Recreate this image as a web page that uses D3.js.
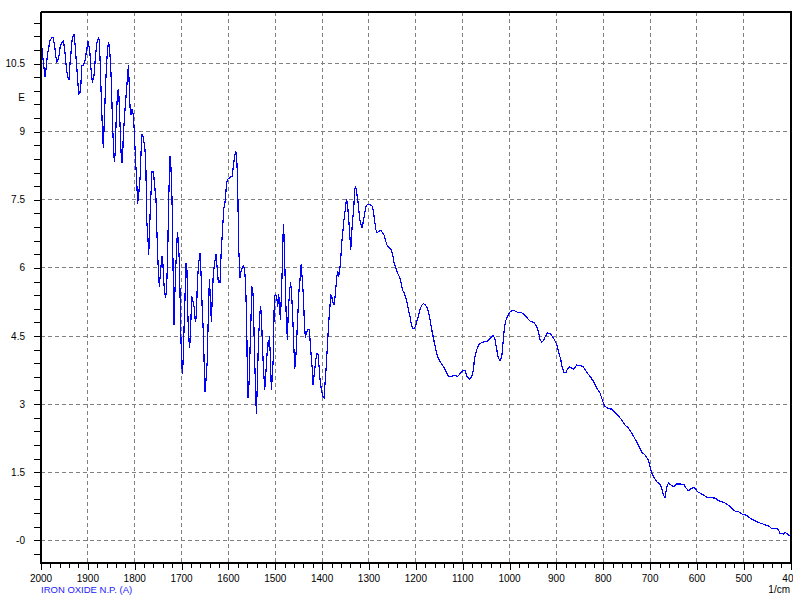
<!DOCTYPE html>
<html><head><meta charset="utf-8">
<script src="https://cdn.jsdelivr.net/npm/d3@7"></script>
<style>body{margin:0;background:#fff}svg{display:block}</style>
</head><body><svg id="c" width="793" height="595"></svg>
<script>
// ---------- data ----------
const xTickValues = [2000,1900,1800,1700,1600,1500,1400,1300,1200,1100,1000,900,800,700,600,500,400];
const xTickLabels = ["2000","1900","1800","1700","1600","1500","1400","1300","1200","1100","1000","900","800","700","600","500","400"];
const yTickValues = [10.5,9,7.5,6,4.5,3,1.5,0];
const yTickLabels = ["10.5","9","7.5","6","4.5","3","1.5","-0"];
const yAxisLabel = "E", yAxisLabelValue = 9.75;
const xTitle = "IRON OXIDE N.P. (A)";
const xUnit = "1/cm";
// [wavenumber (1/cm), absorbance]
const spectrumPoints = [
[2000,10.85],[1998.6,10.89],[1991.5,10.21],[1989.3,10.38],[1986.5,10.67],[1983.6,10.85],[1980.8,11.00],[1977.2,11.07],[1973.7,11.07],[1970.1,10.82],
[1966.6,10.52],[1963.0,10.60],[1960.9,10.71],[1959.4,10.85],[1955.9,10.96],[1952.3,11.00],[1949.5,10.82],[1945.2,10.34],[1941.7,10.15],[1939.5,10.15],
[1938.1,10.52],[1936.0,10.74],[1933.8,11.00],[1931.0,11.13],[1928.9,11.13],[1926.0,10.74],[1922.5,10.26],[1919.6,9.82],[1916.8,9.86],[1914.6,10.08],
[1913.2,10.45],[1909.6,10.45],[1906.1,10.56],[1903.9,10.71],[1901.1,10.89],[1899.7,11.00],[1898.2,10.93],[1895.4,10.71],[1893.3,10.38],[1890.4,10.08],
[1886.9,10.23],[1884.0,10.63],[1881.2,10.93],[1877.6,11.07],[1875.5,11.00],[1874.1,10.63],[1871.9,9.93],[1869.8,9.31],[1868.4,8.90],[1866.9,8.65],
[1864.8,9.27],[1861.9,10.08],[1859.8,10.52],[1857.7,10.85],[1855.6,10.96],[1854.1,10.89],[1852.0,10.56],[1849.9,10.12],[1847.7,9.31],[1845.6,8.72],
[1843.5,8.35],[1841.3,8.57],[1839.9,9.16],[1838.5,9.49],[1836.4,9.90],[1834.2,9.93],[1832.8,9.49],[1831.4,9.16],[1829.3,8.57],[1827.1,8.32],
[1825.7,8.46],[1824.3,8.94],[1820.7,9.49],[1817.1,9.97],[1815.0,10.26],[1813.6,10.45],[1811.5,10.01],[1810.0,9.53],[1807.9,9.38],[1805.8,9.49],
[1802.9,9.38],[1800.8,8.98],[1797.9,8.32],[1795.8,7.91],[1793.7,7.43],[1791.5,7.62],[1788.7,7.95],[1786.5,8.54],[1784.4,8.94],[1781.6,8.87],
[1778.0,8.61],[1775.9,8.10],[1774.4,7.07],[1771.6,6.62],[1770.2,6.29],[1768.8,6.62],[1767.3,7.14],[1765.2,7.65],[1763.1,8.13],[1760.2,8.13],
[1757.4,7.80],[1754.5,7.51],[1753.1,6.92],[1749.6,5.93],[1747.4,5.60],[1744.6,5.96],[1741.7,6.26],[1740.3,6.18],[1738.9,5.89],[1736.8,5.52],
[1733.9,5.34],[1731.8,5.60],[1729.7,6.26],[1727.5,7.51],[1724.7,8.46],[1722.6,8.21],[1720.4,7.51],[1719.0,6.62],[1717.6,5.60],[1716.1,4.75],
[1714.7,5.30],[1712.6,5.96],[1710.4,6.44],[1709.0,6.77],[1706.9,6.62],[1704.7,6.11],[1703.3,5.45],[1701.9,4.64],[1699.7,3.94],[1698.3,3.68],
[1696.9,3.90],[1694.8,4.64],[1692.6,5.37],[1690.5,6.11],[1688.4,5.93],[1686.9,5.08],[1684.8,4.46],[1682.7,4.24],[1680.5,4.71],[1678.4,5.37],
[1676.3,5.30],[1673.4,5.15],[1670.6,4.82],[1668.4,4.93],[1666.3,5.67],[1663.5,6.11],[1660.6,6.33],[1658.5,5.89],[1656.4,5.23],[1653.5,4.57],
[1651.4,3.72],[1649.9,3.28],[1647.8,3.54],[1645.0,3.98],[1643.5,4.71],[1640.7,5.74],[1638.6,5.37],[1636.5,4.82],[1634.3,5.37],[1632.2,5.89],
[1629.4,6.11],[1626.5,6.29],[1624.3,6.04],[1621.5,5.67],[1618.0,5.67],[1615.8,6.26],[1613.0,6.77],[1610.1,7.29],[1607.3,7.43],[1603.7,7.88],
[1601.6,7.95],[1596.6,7.99],[1592.3,8.02],[1589.5,8.24],[1586.7,8.46],[1584.5,8.57],[1582.4,8.46],[1580.3,7.88],[1578.1,6.44],[1575.2,5.78],
[1572.4,5.96],[1568.1,6.04],[1565.3,5.96],[1563.1,5.56],[1561.0,4.79],[1559.6,3.61],[1558.2,3.13],[1556.0,3.46],[1553.9,4.20],[1551.7,4.93],
[1550.3,5.60],[1548.2,5.52],[1546.8,5.30],[1544.6,4.20],[1542.5,3.46],[1540.4,2.80],[1538.2,3.46],[1536.1,4.35],[1534.0,4.79],[1531.8,5.15],
[1529.7,5.01],[1527.6,4.35],[1525.4,3.83],[1522.6,3.32],[1520.5,3.61],[1518.3,3.98],[1516.2,4.35],[1514.1,4.27],[1512.6,4.49],[1510.5,4.05],
[1508.4,3.32],[1506.2,3.61],[1504.1,4.05],[1502.0,5.37],[1499.8,5.41],[1497.0,5.37],[1494.8,5.15],[1492.7,5.41],[1490.6,5.15],[1489.2,4.86],
[1487.0,5.37],[1484.9,6.07],[1482.8,6.96],[1481.3,6.70],[1479.2,5.89],[1477.1,5.08],[1474.2,4.42],[1472.1,5.08],[1469.2,5.52],[1467.1,5.67],
[1464.9,5.37],[1462.8,4.93],[1460.7,4.35],[1458.5,3.79],[1456.4,3.98],[1454.3,4.42],[1452.1,4.93],[1449.3,5.52],[1447.2,5.74],[1445.0,6.07],
[1442.9,5.82],[1440.0,5.37],[1437.9,4.79],[1435.8,4.46],[1433.6,4.57],[1430.8,4.64],[1427.2,4.64],[1424.4,4.20],[1421.5,3.83],[1419.4,3.43],
[1417.3,3.61],[1414.4,3.90],[1411.6,4.12],[1408.7,4.09],[1406.6,3.83],[1404.5,3.54],[1401.6,3.32],[1398.8,3.17],[1395.9,3.13],[1393.8,3.46],
[1391.7,3.76],[1388.8,4.27],[1386.0,4.79],[1383.8,5.08],[1381.7,5.41],[1379.6,5.37],[1376.7,5.23],[1373.9,5.19],[1371.7,5.45],[1368.9,5.78],
[1366.8,5.93],[1364.6,5.82],[1362.5,5.96],[1360.4,6.18],[1358.2,6.55],[1356.1,6.77],[1353.3,7.07],[1351.1,7.25],[1349.0,7.43],[1347.6,7.51],
[1345.4,7.36],[1343.3,7.07],[1341.2,6.77],[1339.0,6.40],[1336.9,6.77],[1334.8,7.07],[1332.6,7.29],[1330.5,7.73],[1328.3,7.79],[1326.2,7.65],
[1324.1,7.51],[1321.9,7.29],[1319.8,7.07],[1317.0,6.96],[1314.8,6.88],[1312.0,7.03],[1309.1,7.21],[1306.3,7.36],[1302.7,7.40],[1297.7,7.40],
[1293.5,7.36],[1290.6,7.25],[1287.8,7.03],[1285.6,6.85],[1282.8,6.77],[1278.5,6.81],[1274.3,6.82],[1270.7,6.77],[1267.2,6.71],[1264.3,6.59],
[1260.8,6.48],[1256.5,6.44],[1252.2,6.40],[1249.4,6.29],[1246.5,6.11],[1243.0,6.00],[1239.4,5.89],[1235.8,5.82],[1232.3,5.71],[1228.7,5.52],
[1225.2,5.45],[1221.6,5.34],[1218.7,5.23],[1215.9,5.08],[1212.3,4.93],[1209.5,4.75],[1207.3,4.68],[1203.8,4.66],[1200.9,4.71],[1198.1,4.82],
[1194.6,4.93],[1191.0,5.08],[1187.4,5.18],[1183.9,5.21],[1179.7,5.19],[1176.1,5.12],[1172.5,5.01],[1169.7,4.86],[1166.1,4.64],[1162.6,4.46],
[1158.3,4.24],[1154.0,4.05],[1148.4,3.94],[1141.2,3.83],[1137.6,3.76],[1134.1,3.68],[1130.6,3.61],[1127.0,3.60],[1121.3,3.62],[1116.3,3.63],
[1110.6,3.61],[1105.6,3.67],[1099.9,3.74],[1095.0,3.74],[1091.4,3.62],[1086.4,3.55],[1080.7,3.61],[1077.2,3.76],[1075.0,3.98],[1072.2,4.12],
[1068.7,4.24],[1065.1,4.31],[1059.4,4.36],[1048.8,4.38],[1043.1,4.42],[1038.1,4.49],[1034.5,4.51],[1031.0,4.42],[1027.4,4.20],[1023.8,4.01],
[1020.3,3.96],[1016.7,4.05],[1013.9,4.35],[1011.7,4.60],[1008.9,4.82],[1004.6,4.93],[998.9,5.03],[993.2,5.07],[988.2,5.05],[981.1,5.01],
[974.0,5.01],[970.5,4.99],[964.8,4.93],[959.8,4.86],[954.8,4.82],[947.7,4.80],[942.0,4.71],[938.5,4.60],[934.9,4.42],[931.3,4.36],
[927.8,4.40],[924.2,4.48],[919.2,4.57],[913.5,4.55],[908.6,4.49],[904.3,4.42],[899.3,4.31],[894.4,4.12],[890.8,3.98],[887.3,3.79],
[883.7,3.70],[879.4,3.70],[876.6,3.77],[872.3,3.82],[867.3,3.79],[863.8,3.77],[860.2,3.81],[856.6,3.86],[849.5,3.85],[842.4,3.82],
[835.3,3.70],[828.2,3.61],[821.0,3.50],[813.9,3.35],[806.8,3.24],[799.7,3.02],[796.1,2.95],[789.0,2.90],[781.9,2.89],[774.8,2.82],
[767.7,2.74],[760.6,2.65],[753.5,2.54],[746.3,2.47],[739.2,2.36],[732.1,2.23],[725.0,2.10],[717.9,1.94],[710.8,1.88],[703.6,1.76],
[698.6,1.55],[693.0,1.40],[685.8,1.29],[678.7,1.23],[675.2,1.15],[671.6,1.00],[668.1,0.93],[664.5,1.18],[661.0,1.26],[656.0,1.22],
[650.3,1.18],[643.2,1.24],[636.0,1.24],[627.5,1.22],[623.2,1.15],[618.3,1.09],[613.3,1.13],[609.0,1.16],[604.0,1.15],[599.1,1.07],
[593.4,1.04],[586.2,1.00],[579.1,0.95],[572.0,0.94],[561.3,0.93],[554.2,0.87],[543.5,0.84],[536.4,0.80],[529.3,0.74],[522.2,0.67],
[516.5,0.63],[511.5,0.63],[504.4,0.58],[497.3,0.56],[490.2,0.52],[483.1,0.46],[476.0,0.43],[468.8,0.39],[461.7,0.37],[454.6,0.34],
[447.5,0.32],[440.4,0.26],[429.7,0.26],[426.2,0.23],[422.6,0.15],[415.5,0.14],[411.9,0.17],[408.4,0.15],[400,0.08]
];

// ---------- layout ----------
const L = 41, R = 790.7, T = 11.7, B = 562.7;
const svg = d3.select("#c");
svg.append("rect").attr("width",793).attr("height",595).attr("fill","#fff");

const x = d3.scaleLinear().domain([2000,400]).range([L,R]);
const y = d3.scaleLinear().domain([0,10.5]).range([540.3,63.6]);

const font = "'Liberation Sans', Arial, sans-serif";

// grid
const grid = svg.append("g").attr("stroke","#808080").attr("stroke-width",1)
  .attr("stroke-dasharray","4,3").attr("shape-rendering","crispEdges");
grid.selectAll("line.v").data(xTickValues.filter(v=>v!==2000 && v!==400)).join("line")
  .attr("x1",d=>x(d)).attr("x2",d=>x(d)).attr("y1",T).attr("y2",B);
grid.selectAll("line.h").data(yTickValues).join("line")
  .attr("x1",L).attr("x2",R).attr("y1",d=>y(d)).attr("y2",d=>y(d));

// spectrum
svg.append("defs").append("clipPath").attr("id","clip")
  .append("rect").attr("x",L).attr("y",T).attr("width",R-L).attr("height",B-T);
const line = d3.line().x(d=>x(d[0])).y(d=>y(d[1]));
svg.append("path").datum(spectrumPoints).attr("clip-path","url(#clip)")
  .attr("d",line).attr("fill","none").attr("stroke","#0000ff").attr("stroke-width",1.2)
  .attr("stroke-linejoin","round").attr("shape-rendering","crispEdges");

// y axis ticks (minor every 0.3)
const yMinor = d3.range(-1,39).map(k=>+(k*0.3).toFixed(2));
const yAxis = d3.axisLeft(y).tickValues(yMinor).tickSize(7).tickFormat("");
const gy = svg.append("g").attr("transform",`translate(${L},0)`).call(yAxis);
gy.select(".domain").remove();
gy.selectAll("line").attr("stroke","#000").attr("shape-rendering","crispEdges");

svg.append("g").selectAll("text").data(yTickValues).join("text")
  .attr("x",25).attr("y",d=>y(d)).attr("dy","0.35em").attr("text-anchor","end")
  .attr("font-family",font).attr("font-size",10).attr("fill","#000")
  .text((d,i)=>yTickLabels[i]);
svg.append("text").attr("x",25).attr("y",y(yAxisLabelValue)).attr("dy","0.35em")
  .attr("text-anchor","end").attr("font-family",font).attr("font-size",10).text(yAxisLabel);

// x axis ticks (minor every 20)
const xMinor = d3.range(2000,399,-20);
const gx = svg.append("g").attr("transform",`translate(0,${B})`)
  .call(d3.axisBottom(x).tickValues(xMinor).tickSize(5).tickFormat(""));
gx.select(".domain").remove();
gx.selectAll("line").attr("stroke","#000").attr("shape-rendering","crispEdges");
svg.append("g").attr("transform",`translate(0,${B})`)
  .call(d3.axisBottom(x).tickValues(xTickValues).tickSize(7).tickFormat(""))
  .call(g=>{g.select(".domain").remove(); g.selectAll("line").attr("stroke","#000").attr("shape-rendering","crispEdges");});

svg.append("g").selectAll("text").data(xTickValues).join("text")
  .attr("x",d=>x(d)).attr("y",581.5).attr("text-anchor","middle")
  .attr("font-family",font).attr("font-size",10).attr("fill","#000")
  .text((d,i)=>xTickLabels[i]);

// frame
const frame = svg.append("g").attr("stroke","#000").attr("shape-rendering","crispEdges");
frame.append("line").attr("x1",L).attr("x2",L).attr("y1",T).attr("y2",B+1).attr("stroke-width",2);
frame.append("line").attr("x1",L).attr("x2",R+1).attr("y1",B).attr("y2",B).attr("stroke-width",2);
frame.append("line").attr("x1",L).attr("x2",R+1).attr("y1",T).attr("y2",T).attr("stroke-width",2);
frame.append("line").attr("x1",R).attr("x2",R).attr("y1",T).attr("y2",B).attr("stroke-width",2);

// titles
svg.append("text").attr("x",L).attr("y",592.5).attr("font-family",font).attr("font-size",9.5)
  .attr("fill","#1a1aff").text(xTitle);
svg.append("text").attr("x",790).attr("y",592.5).attr("text-anchor","end")
  .attr("font-family",font).attr("font-size",10).attr("fill","#000").text(xUnit);
</script></body></html>
